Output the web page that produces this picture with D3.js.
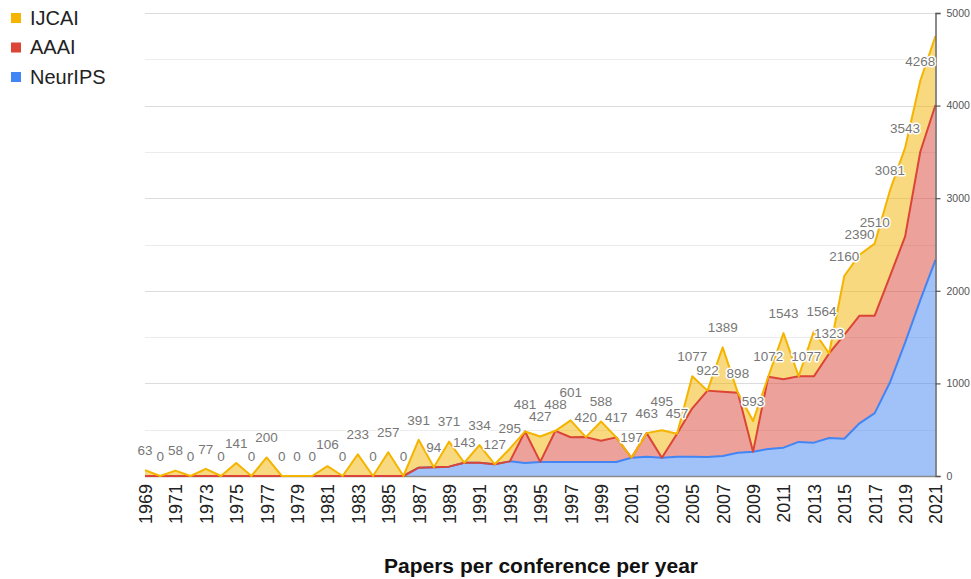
<!DOCTYPE html>
<html><head><meta charset="utf-8">
<script src="https://cdn.jsdelivr.net/npm/d3@7/dist/d3.min.js"></script>
<style>
body{margin:0;background:#fff;}
svg{display:block;font-family:Arial,"Liberation Sans",sans-serif;}
</style>
</head><body>
<svg id="chart" width="971" height="579"></svg>
<script>
const years = [1969,1970,1971,1972,1973,1974,1975,1976,1977,1978,1979,1980,1981,1982,1983,1984,1985,1986,
  1987,1988,1989,1990,1991,1992,1993,1994,1995,1996,1997,1998,1999,2000,2001,2002,2003,2004,
  2005,2006,2007,2008,2009,2010,2011,2012,2013,2014,2015,2016,2017,2018,2019,2020,2021];
const neurips = [0,0,0,0,0,0,0,0,0,0,0,0,0,0,0,0,0,0,
  90,94,101,143,144,127,158,140,152,152,150,151,150,152,197,207,198,207,
  207,204,217,250,263,292,306,368,360,411,403,569,679,1009,1440,1900,2334];
const aaai = [0,0,0,0,0,0,0,0,0,0,0,0,0,0,0,0,0,0,
  0,0,0,0,0,0,0,341,0,336,268,269,231,265,0,256,0,250,
  524,718,692,648,0,780,738,709,716,912,1122,1162,1052,1146,1145,1602,1672];
const ijcai = [63,0,58,0,77,0,141,0,200,0,0,0,106,0,233,0,257,0,
  301,0,270,0,190,0,137,0,275,0,183,0,207,0,0,0,297,0,
  346,0,480,0,330,0,499,0,488,0,635,659,779,926,958,766,746];
const yTicks = [0,1000,2000,3000,4000,5000];
const yGrid = [500,1000,1500,2000,2500,3000,3500,4000,4500,5000];
const xTickYears = [1969,1971,1973,1975,1977,1979,1981,1983,1985,1987,1989,1991,1993,1995,1997,1999,2001,2003,2005,2007,2009,2011,2013,2015,2017,2019,2021];
const seriesKeys = ["NeurIPS","AAAI","IJCAI"];
const colors = {IJCAI:"#f4b400", AAAI:"#db4437", NeurIPS:"#4285f4"};
const legendOrder = ["IJCAI","AAAI","NeurIPS"];
const title = "Papers per conference per year";

(function(){
const rows = years.map((yr,i)=>({year:yr, NeurIPS:neurips[i], AAAI:aaai[i], IJCAI:ijcai[i]}));
const svg = d3.select("#chart");
const x = d3.scaleLinear().domain([1969,2021]).range([145,935.5]);
const y = d3.scaleLinear().domain([0,5000]).range([476,13]);

// grid
svg.append("g").selectAll("line").data(yGrid).join("line")
  .attr("x1",145).attr("x2",935.5)
  .attr("y1",d=>Math.round(y(d))+0.5).attr("y2",d=>Math.round(y(d))+0.5)
  .attr("stroke",d=>d%1000===0?"#dcdcdc":"#ececec").attr("stroke-width",1.2);

const stack = d3.stack().keys(seriesKeys)(rows);
const area = d3.area().x(d=>x(d.data.year)).y0(d=>y(d[0])).y1(d=>y(d[1]));
const line = d3.line().x(d=>x(d.data.year)).y(d=>y(d[1]));

svg.append("g").selectAll("path").data(stack).join("path")
  .attr("d",area).attr("fill",s=>colors[s.key]).attr("fill-opacity",0.5);

// baseline
svg.append("line").attr("x1",145).attr("x2",935.5).attr("y1",476.5).attr("y2",476.5)
  .attr("stroke","#8a8a8a").attr("stroke-width",1.5);

svg.append("g").selectAll("path").data(stack).join("path")
  .attr("d",line).attr("fill","none").attr("stroke",s=>colors[s.key])
  .attr("stroke-width",2).attr("stroke-linejoin","round");

// right axis
const axis = d3.axisRight(y).tickValues(yTicks).tickSize(5).tickPadding(6).tickFormat(d3.format("d"));
const ag = svg.append("g").attr("transform","translate(935.5,0)").call(axis);
ag.select(".domain").attr("stroke","#666").attr("stroke-width",1.5);
ag.selectAll(".tick line").attr("stroke","#555").attr("stroke-width",1.2);
ag.selectAll(".tick text").attr("fill","#555").style("font-size","10.5px").style("font-family","Arial, 'Liberation Sans', sans-serif");

// x labels
const xAxis = d3.axisBottom(x).tickValues(xTickYears).tickSize(0).tickPadding(0).tickFormat(d3.format("d"));
const xg = svg.append("g").attr("transform","translate(0,476)").call(xAxis);
xg.select(".domain").remove();
xg.selectAll(".tick text")
  .attr("transform","rotate(-90)")
  .attr("x",-8).attr("y",0).attr("dy","0.36em")
  .attr("text-anchor","end")
  .attr("fill","#222")
  .style("font-size","18px").style("font-family","Arial, 'Liberation Sans', sans-serif");

// data labels (stack totals) with simple collision avoidance:
// lower labels are placed first; higher ones move up, or sideways if level.
const topSeries = stack[stack.length-1];
const lg = svg.append("g");
const items = [];
topSeries.forEach(d=>{
  const total = d[1];
  const cx = x(d.data.year);
  const cy = y(total) - 20;
  if (cy - 7 < 13) return;
  const t = lg.append("text").text(d3.format("d")(total))
    .attr("text-anchor","middle").attr("dy","0.35em")
    .style("font-size","13.5px").attr("fill","#777")
    .attr("stroke","#fff").attr("stroke-width",3).attr("paint-order","stroke")
    .attr("stroke-linejoin","round");
  items.push({t, x:cx, y:cy, w:t.node().getComputedTextLength()});
});
items.sort((a,b)=>b.y-a.y);
const placed = [];
items.forEach(it=>{
  let moved = true, guard = 0;
  while (moved && guard++ < 50) {
    moved = false;
    for (const p of placed) {
      if (Math.abs(p.x - it.x) < (p.w + it.w)/2 + 2 && Math.abs(p.y - it.y) < 12) {
        if (Math.abs(p.y - it.y) < 2 && it.x > p.x) { it.x = p.x + (p.w + it.w)/2 + 8; }
        else { it.y = p.y - 12; }
        moved = true;
      }
    }
  }
  it.t.attr("x",it.x).attr("y",it.y);
  placed.push(it);
});

// legend
const leg = svg.append("g");
legendOrder.forEach((k,i)=>{
  const yy = 18 + i*29.5;
  leg.append("rect").attr("x",11).attr("y",yy-5).attr("width",10).attr("height",10).attr("fill",colors[k]);
  leg.append("text").attr("x",30).attr("y",yy+6.5).text(k).style("font-size","20px").attr("fill","#222");
});

// title
svg.append("text").attr("x",541).attr("y",573).attr("text-anchor","middle")
  .style("font-size","21px").style("font-weight","bold").attr("fill","#111").text(title);
})();
</script>
</body></html>
